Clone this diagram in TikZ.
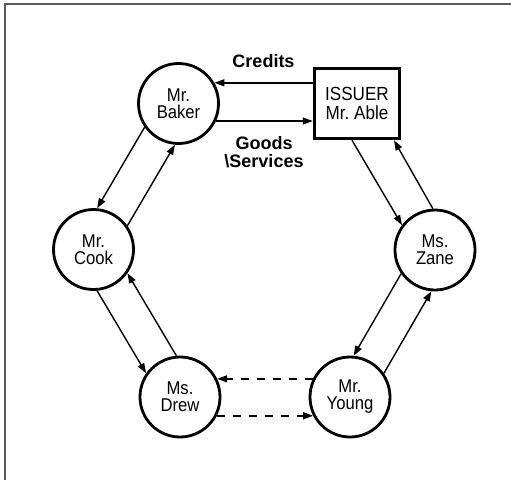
\documentclass[tikz,border=0pt]{standalone}
\usepackage{fontspec}
\setmainfont{Liberation Sans}
\newfontfamily\narrowfont[FakeStretch=0.9]{Liberation Sans}
\usetikzlibrary{arrows.meta}
\begin{document}
\begin{tikzpicture}[x=1pt,y=-1pt,
  person/.style={circle,draw,line width=2.8pt,minimum size=80pt,inner sep=0pt,align=center,font=\narrowfont\fontsize{18.5}{17}\selectfont},
  issuerbox/.style={rectangle,draw,line width=3.5pt,minimum width=85pt,minimum height=70pt,inner sep=0pt,align=center,font=\narrowfont\fontsize{19}{19}\selectfont},
  flow/.style={line width=1.4pt,-{Triangle[length=10pt,width=7pt]}},
  dflow/.style={flow,dash pattern=on 8pt off 8pt},
  lbl/.style={font=\bfseries\fontsize{18}{18}\selectfont,align=center,inner sep=0pt}]
\useasboundingbox (0,0) rectangle (511,480);
\draw[line width=2pt,black!65] (5,480) -- (5,4) -- (511,4);
\node[person] (baker) at (178.5,103.5) {Mr.\\Baker};
\node[issuerbox] (issuer) at (357,103.5) {ISSUER\\Mr.\ Able};
\node[person] (cook) at (93.5,249.5) {Mr.\\Cook};
\node[person] (zane) at (435,250) {Ms.\\Zane};
\node[person] (drew) at (180,397) {Ms.\\Drew};
\node[person] (young) at (350,397) {Mr.\\Young};
\node[lbl] (credits) at (263.5,61) {Credits};
\node[lbl] (goods) at (264,152) {Goods\\\textbackslash Services};
% top exchange
\draw[flow] (baker.30 -| issuer.west) -- (baker.30);
\draw[flow] (baker.-25) -- (baker.-25 -| issuer.west);
% Baker - Cook
\draw[flow] (baker.215) -- (cook.85);
\draw[flow] (cook.35) -- (baker.265);
% Cook - Drew
\draw[flow] (cook.-85) -- (drew.145);
\draw[flow] (drew.95) -- (cook.-35);
% Drew - Young
\draw[dflow] (young.154) -- (drew.26);
\draw[dflow] (drew.-27) -- (young.-153);
% Young - Zane
\draw[flow] (young.35) -- (zane.265);
\draw[flow] (zane.215) -- (young.85);
% Zane - Issuer
\draw[flow] ([xshift=-5pt]issuer.south) -- (zane.143);
\draw[flow] (zane.93) -- ([xshift=37pt]issuer.south);
\end{tikzpicture}
\end{document}
